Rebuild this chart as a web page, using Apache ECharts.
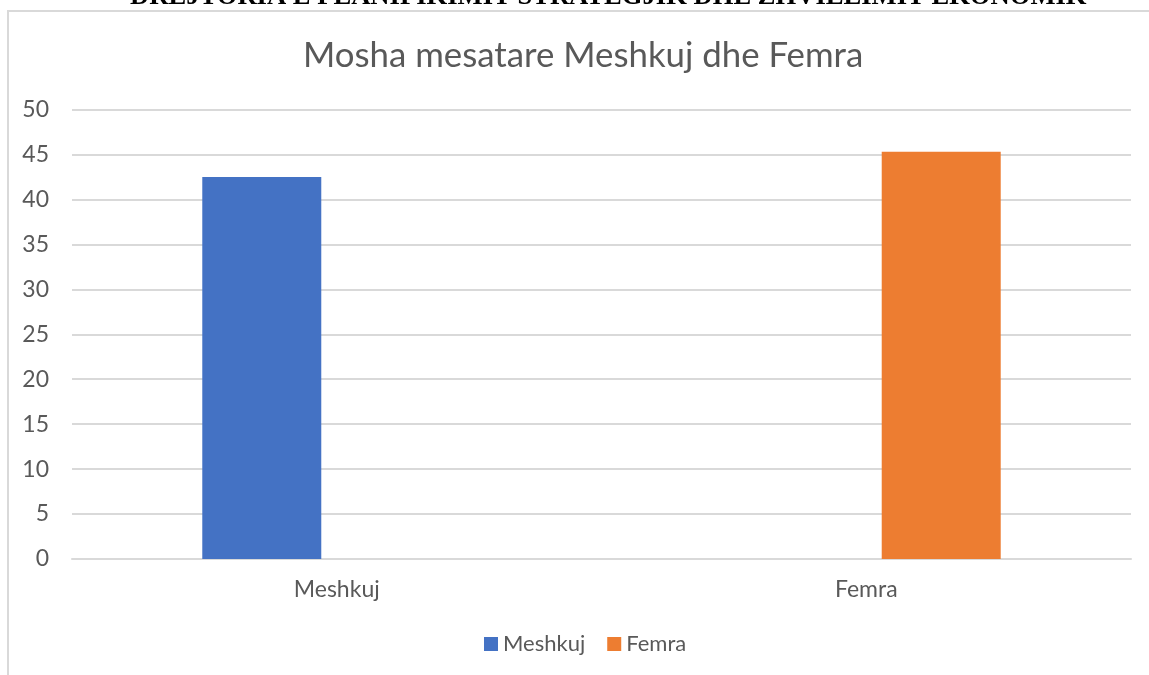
<html lang="sq">
  <head>
    <meta charset="UTF-8" />
    <title>Mosha mesatare</title>
    <style>
      html, body { margin: 0; padding: 0; background: #fff; }
    </style>
  </head>
  <body>
    <div id="main" style="width: 1149px; height: 675px"></div>

    <script src="https://cdn.jsdelivr.net/npm/echarts@6/dist/echarts.min.js"></script>
    <script>
      let categories = ['Meshkuj', 'Femra']
      let meshkujData = [42.5, '-']
      let femraData = ['-', 45.3]
      let yTicks = [0, 50, 5] // min, max, interval

      let myChart = echarts.init(document.getElementById('main'))
      let textColor = '#595959'
      let font = 'Lato'

      let option = {
        animation: false,
        backgroundColor: '#fff',
        title: {
          text: 'Mosha mesatare Meshkuj dhe Femra',
          left: 303,
          top: 38,
          padding: 0,
          textStyle: { fontFamily: font, fontSize: 34.8, fontWeight: 'normal', color: textColor }
        },
        graphic: [
          {
            type: 'text',
            left: 130,
            top: -16,
            style: {
              text: 'DREJTORIA E PLANIFIKIMIT STRATEGJIK DHE ZHVILLIMIT EKONOMIK',
              font: 'bold 26.6px "Liberation Serif"',
              fill: '#000'
            }
          },
          {
            type: 'polyline',
            shape: { points: [[8, 675], [8, 11], [1149, 11]] },
            style: { stroke: '#d9d9d9', lineWidth: 2, fill: null }
          }
        ],
        legend: {
          left: 484,
          top: 633,
          padding: 0,
          itemWidth: 14,
          itemHeight: 14,
          itemGap: 22,
          icon: 'rect',
          textStyle: { fontFamily: font, fontSize: 22, color: textColor },
          data: categories
        },
        grid: { left: 72, right: 18, top: 109.5, bottom: 116 },
        xAxis: {
          type: 'category',
          data: categories,
          axisLine: { lineStyle: { color: '#d9d9d9', width: 2 } },
          axisTick: { show: false },
          axisLabel: { margin: 19, fontFamily: font, fontSize: 23, color: textColor }
        },
        yAxis: {
          type: 'value',
          min: yTicks[0],
          max: yTicks[1],
          interval: yTicks[2],
          axisLine: { show: false },
          axisTick: { show: false },
          splitLine: { lineStyle: { color: '#d9d9d9', width: 2 } },
          axisLabel: { margin: 23, fontFamily: font, fontSize: 23, color: textColor }
        },
        series: [
          {
            name: 'Meshkuj',
            type: 'bar',
            data: meshkujData,
            barWidth: 119,
            barGap: '26%',
            itemStyle: { color: '#4472C4' }
          },
          {
            name: 'Femra',
            type: 'bar',
            data: femraData,
            barWidth: 119,
            barGap: '26%',
            itemStyle: { color: '#ED7D31' }
          }
        ]
      }
      myChart.setOption(option)
    </script>
  </body>
</html>
